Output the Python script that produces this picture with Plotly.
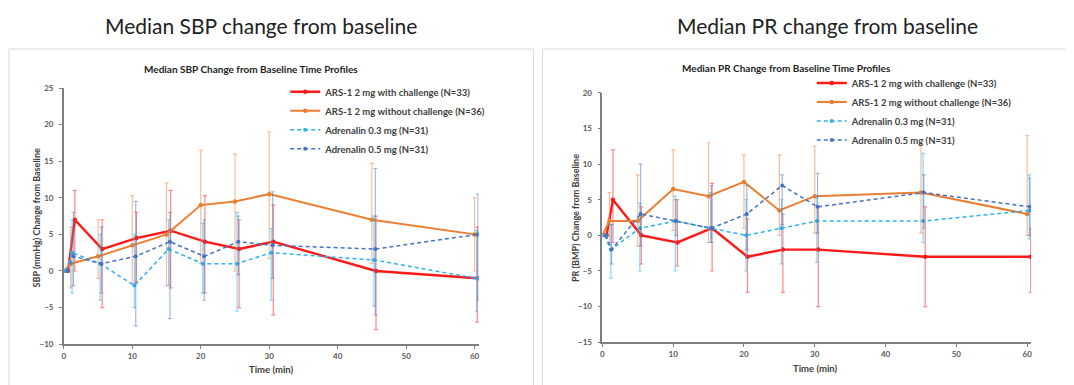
import plotly.graph_objects as go

W, H = 1074, 385
OFF = 8  # page body margin compensation


def X(px):
    return (px - OFF) / W


def Y(py):
    return 1 - (py - OFF) / H


# ---------------- data: SBP (left) ----------------
sbp_t_red = [0.6, 1.6, 5.6, 10.6, 15.6, 20.6, 25.6, 30.6, 45.6, 60.4]
sbp_red = [0, 7, 3, 4.5, 5.5, 4, 3, 4, 0, -1]
sbp_red_hi = [0, 11, 7, 8, 11, 10.3, 7, 9, 7.5, 6]
sbp_red_lo = [0, 0, -5, -1.5, -2.3, -3, -5, -6, -8, -7]

sbp_t_or = [0, 1, 5, 10, 15, 20, 25, 30, 45, 60]
sbp_or = [0, 1, 2, 3.5, 5, 9, 9.5, 10.5, 7, 5]
sbp_or_hi = [0, 6, 7, 10.3, 12, 16.5, 16, 19, 14.7, 10]
sbp_or_lo = [0, -2.3, -1, -1.7, -2, 1, 0, 1.7, 1, 0]

sbp_t_cy = [0.3, 1.2, 5.3, 10.3, 15.3, 20.3, 25.3, 30.3, 45.3, 60.3]
sbp_cy = [0, 2.5, 1, -2, 3, 1, 1, 2.5, 1.5, -1]
sbp_cy_hi = [0, 7, 5, 5, 7, 6.5, 8, 5.8, 7.5, 5.5]
sbp_cy_lo = [0, -3, -4, -5, -2, -3, -5.5, -4, -4.8, -5.5]

sbp_t_bl = [0.5, 1.4, 5.5, 10.5, 15.5, 20.5, 25.5, 30.5, 45.5, 60.5]
sbp_bl = [0, 2, 1, 2, 4, 2, 4, 3.5, 3, 5]
sbp_bl_hi = [0, 8, 6, 9.5, 8, 7, 7.5, 10.8, 14, 10.5]
sbp_bl_lo = [0, -2, -3, -7.5, -6.5, -4, -0.5, -1, -6, -4]

# ---------------- data: PR (right) ----------------
pr_t_red = [0.6, 1.5, 5.5, 10.6, 15.5, 20.5, 25.5, 30.5, 45.6, 60.5]
pr_red = [0, 5, 0, -1, 1, -3, -2, -2, -3, -3]
pr_red_hi = [0, 12, 4, 5, 7.3, 2.3, 3, 4, 4, 1]
pr_red_lo = [0, -1, -4, -4.3, -5, -8, -8, -10, -10, -8]

pr_t_or = [0, 1, 5, 10, 15, 20, 25, 30, 45, 60]
pr_or = [0, 2, 2, 6.5, 5.5, 7.5, 3.5, 5.5, 6, 3]
pr_or_hi = [0, 6, 8.5, 12, 13, 11.3, 11.3, 12.5, 12.8, 14]
pr_or_lo = [0, -1, -1.5, 0.7, -1, 1, 0, 0.3, 0.3, 0]

pr_t_cy = [0.3, 1.2, 5.3, 10.3, 15.3, 20.3, 25.3, 30.3, 45.3, 60.3]
pr_cy = [0, -2, 1, 2, 1, 0, 1, 2, 2, 3.5]
pr_cy_hi = [0, 1.5, 4.5, 5.5, 6, 5, 5, 5.5, 11.5, 8.5]
pr_cy_lo = [0, -6, -5, -5, -1, -5, -4, -3.8, -1, -0.5]

pr_t_bl = [0.5, 1.3, 5.4, 10.4, 15.4, 20.4, 25.4, 30.4, 45.4, 60.4]
pr_bl = [0, -2, 3, 2, 1, 3, 7, 4, 6, 4]
pr_bl_hi = [0, 1.5, 10, 5, 7, 7, 8.5, 8.7, 8.5, 8]
pr_bl_lo = [0, -4, -1.5, 0, -1, -2, 1.5, 0.3, 1, 0]

names = ["ARS-1 2 mg with challenge (N=33)",
         "ARS-1 2 mg without challenge (N=36)",
         "Adrenalin 0.3 mg (N=31)",
         "Adrenalin 0.5 mg (N=31)"]

styles = [
    dict(color="#ff1a1a", err="rgba(255,40,40,0.55)", width=2.4, dash="solid", size=4.5),
    dict(color="#ed7d31", err="rgba(237,125,49,0.5)", width=2.0, dash="solid", size=4.5),
    dict(color="#2db3ea", err="rgba(45,179,234,0.55)", width=1.5, dash="4px,3px", size=4),
    dict(color="#4472c4", err="rgba(68,114,196,0.5)", width=1.5, dash="4px,3px", size=4),
]

FONT = "Lato, 'Open Sans', sans-serif"
fig = go.Figure()


def add(t, y, hi, lo, st, name, xa, ya, legend):
    plus = [h - v for h, v in zip(hi, y)]
    minus = [v - l for v, l in zip(y, lo)]
    fig.add_trace(go.Scatter(
        x=t, y=y, name=name, mode="lines+markers",
        line=dict(color=st["color"], width=st["width"], dash=st["dash"]),
        marker=dict(color=st["color"], size=st["size"]),
        error_y=dict(type="data", array=plus, arrayminus=minus, symmetric=False,
                     color=st["err"], thickness=1.2, width=2),
        xaxis=xa, yaxis=ya, legend=legend))


sbp = [(sbp_t_red, sbp_red, sbp_red_hi, sbp_red_lo),
       (sbp_t_or, sbp_or, sbp_or_hi, sbp_or_lo),
       (sbp_t_cy, sbp_cy, sbp_cy_hi, sbp_cy_lo),
       (sbp_t_bl, sbp_bl, sbp_bl_hi, sbp_bl_lo)]
pr = [(pr_t_red, pr_red, pr_red_hi, pr_red_lo),
      (pr_t_or, pr_or, pr_or_hi, pr_or_lo),
      (pr_t_cy, pr_cy, pr_cy_hi, pr_cy_lo),
      (pr_t_bl, pr_bl, pr_bl_hi, pr_bl_lo)]

for (t, y, hi, lo), st, nm in zip(sbp, styles, names):
    add(t, y, hi, lo, st, nm, "x", "y", "legend")
for (t, y, hi, lo), st, nm in zip(pr, styles, names):
    add(t, y, hi, lo, st, nm, "x2", "y2", "legend2")

tickfont = dict(family=FONT, size=8, color="#595959", weight="bold")
axis_common = dict(showgrid=False, zeroline=False, showline=True, linecolor="#7f7f7f",
                   linewidth=1.5, ticks="outside", ticklen=3, tickcolor="#7f7f7f",
                   tickfont=tickfont, fixedrange=True)

legfont = dict(family=FONT, size=9.5, color="#404040", weight="bold")
fig.update_layout(
    width=W, height=H, margin=dict(l=0, r=0, t=0, b=0),
    paper_bgcolor="white", plot_bgcolor="white",
    font=dict(family=FONT),
    xaxis=dict(domain=[X(62), X(478)], range=[0, 60.6], dtick=10, anchor="y", **axis_common),
    yaxis=dict(domain=[Y(348), Y(85)], range=[-10, 25], dtick=5, anchor="x",
               ticklabelstandoff=4, **axis_common),
    xaxis2=dict(domain=[X(602), X(1032)], range=[0, 60.56], dtick=10, anchor="y2", **axis_common),
    yaxis2=dict(domain=[Y(346), Y(90)], range=[-15, 20], dtick=5, anchor="x2",
                ticklabelstandoff=4, **axis_common),
    legend=dict(x=X(284), y=Y(74), xanchor="left", yanchor="top",
                bgcolor="rgba(0,0,0,0)", tracegroupgap=0, itemwidth=30, font=legfont),
    legend2=dict(x=X(812), y=Y(65), xanchor="left", yanchor="top",
                 bgcolor="rgba(0,0,0,0)", tracegroupgap=0, itemwidth=30, font=legfont),
    showlegend=True,
)

# panel frames
shapes = []
for x0, x1 in [(7, 533), (542, 1070)]:
    shapes.append(dict(type="rect", xref="paper", yref="paper", x0=X(x0), x1=X(x1),
                       y0=-0.05, y1=Y(45), line=dict(color="#d9d9d9", width=1),
                       fillcolor="rgba(0,0,0,0)", layer="below"))
fig.update_layout(shapes=shapes)

ann = [
    dict(text="Median SBP change from baseline", x=X(260), y=Y(21),
         font=dict(family=FONT, size=21, color="#222222")),
    dict(text="Median PR change from baseline", x=X(828), y=Y(21),
         font=dict(family=FONT, size=21, color="#222222")),
    dict(text="Median SBP Change from Baseline Time Profiles", x=X(250), y=Y(66),
         font=dict(family=FONT, size=10, color="#222222", weight="bold")),
    dict(text="Median PR Change from Baseline Time Profiles", x=X(787), y=Y(64),
         font=dict(family=FONT, size=10, color="#222222", weight="bold")),
    dict(text="SBP (mmHg) Change from Baseline", x=X(35), y=Y(218), textangle=-90,
         font=dict(family=FONT, size=9, color="#404040", weight="bold")),
    dict(text="PR (BMP) Change from Baseline", x=X(575), y=Y(218), textangle=-90,
         font=dict(family=FONT, size=9, color="#404040", weight="bold")),
    dict(text="Time (min)", x=X(270), y=Y(374),
         font=dict(family=FONT, size=9.5, color="#404040", weight="bold")),
    dict(text="Time (min)", x=X(816), y=Y(373),
         font=dict(family=FONT, size=9.5, color="#404040", weight="bold")),
]
for a in ann:
    a.update(xref="paper", yref="paper", showarrow=False, xanchor="center", yanchor="middle")
fig.update_layout(annotations=ann)

fig.write_html("out.html")
